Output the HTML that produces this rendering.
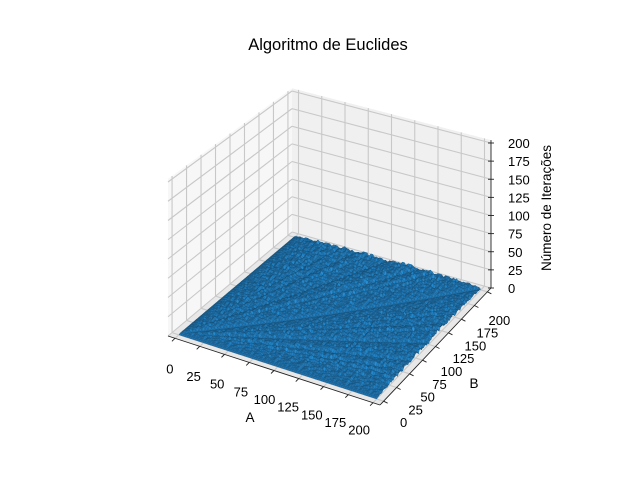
<!DOCTYPE html>
<html><head><meta charset="utf-8"><style>
body{margin:0;background:#fff}
svg{display:block}
text{font-family:"Liberation Sans","DejaVu Sans",sans-serif;fill:#000}
</style></head><body>
<svg id="chart" width="640" height="480" viewBox="0 0 640 480" xmlns="http://www.w3.org/2000/svg">
<rect width="640" height="480" fill="#fff"/>
<text x="328" y="50" font-size="16.5" text-anchor="middle">Algoritmo de Euclides</text>
<g id="panes"></g>
<g id="grid"></g>
<g id="surface"></g>
<g id="axes"></g>
<text x="250" y="422" font-size="13.5" text-anchor="middle">A</text>
<text x="474" y="388" font-size="13.5" text-anchor="middle">B</text>
<text transform="translate(551,208) rotate(-90)" font-size="13.5" text-anchor="middle">Número de Iterações</text>
</svg>
<script>
const aTicks=[0,25,50,75,100,125,150,175,200];
const bTicks=[0,25,50,75,100,125,150,175,200];
const zTicks=[0,25,50,75,100,125,150,175,200];
const gridStep=2;
const aValues=[];for(let a=0;a<=200;a+=gridStep)aValues.push(a);
const bValues=[];for(let b=0;b<=200;b+=gridStep)bValues.push(b);
// Z values: number of iterations of Euclid's algorithm for each (A,B)
function euclidSteps(a,b){let n=0;while(b!==0){const t=a%b;a=b;b=t;n++;}return n;}
const zValues=aValues.map(a=>bValues.map(b=>euclidSteps(a,b)));

const NS="http://www.w3.org/2000/svg";
const lo=-7,hi=207,zlo=0,zhi=204;
const C00=[168,336],C10=[380,405],C11=[491,288],C01=[292,232];
const K00=0.77,K10=0.78,K11=0.725,K01=0.705;
function P(a,b,z){
  const u=(a-lo)/(hi-lo),v=(b-lo)/(hi-lo);
  const w00=(1-u)*(1-v),w10=u*(1-v),w11=u*v,w01=(1-u)*v;
  const x=w00*C00[0]+w10*C10[0]+w11*C11[0]+w01*C01[0];
  const y=w00*C00[1]+w10*C10[1]+w11*C11[1]+w01*C01[1];
  const k=w00*K00+w10*K10+w11*K11+w01*K01;
  return [x,y-(z-zlo)*k];
}
function el(tag,attrs,parent){const e=document.createElementNS(NS,tag);for(const k in attrs)e.setAttribute(k,attrs[k]);parent.appendChild(e);return e;}
function pts(arr){return arr.map(p=>p[0].toFixed(1)+","+p[1].toFixed(1)).join(" ");}

const panes=document.getElementById('panes');
let e;
e=el('polygon',{points:pts([P(lo,lo,zlo),P(lo,hi,zlo),P(lo,hi,zhi),P(lo,lo,zhi)]),fill:'#f7f7f7'},panes);


e=el('polygon',{points:pts([P(lo,hi,zlo),P(hi,hi,zlo),P(hi,hi,zhi),P(lo,hi,zhi)]),fill:'#f0f0f0'},panes);


e=el('polygon',{points:pts([P(lo,lo,zlo),P(hi,lo,zlo),P(hi,hi,zlo),P(lo,hi,zlo)]),fill:'#e8e8e8'},panes);



const grid=document.getElementById('grid');
const gs={stroke:'#c8c8c8','stroke-width':1.1,fill:'none'};
function line(p,q,attrs,parent){return el('line',Object.assign({x1:p[0],y1:p[1],x2:q[0],y2:q[1]},attrs),parent);}
bTicks.forEach(b=>{
  e=line(P(lo,b,zlo),P(lo,b,zhi),gs,grid);
  
  
  e=line(P(lo,b,zlo),P(hi,b,zlo),gs,grid);
  
  
});
aTicks.forEach(a=>{
  e=line(P(a,hi,zlo),P(a,hi,zhi),gs,grid);
  
  
  e=line(P(a,lo,zlo),P(a,hi,zlo),gs,grid);
  
  
});
zTicks.forEach(z=>{
  e=line(P(lo,lo,z),P(lo,hi,z),gs,grid);
  
  
  e=line(P(lo,hi,z),P(hi,hi,z),gs,grid);
  
  
});

// surface
const surf=document.getElementById('surface');
const quads=[];
for(let i=0;i<aValues.length-1;i++)for(let j=0;j<bValues.length-1;j++)quads.push([i,j]);
quads.sort((q,r)=>(q[0]-q[1])-(r[0]-r[1]));
let html='';
quads.forEach(([i,j])=>{
  const a0=aValues[i],a1=aValues[i+1],b0=bValues[j],b1=bValues[j+1];
  const z00=zValues[i][j],z10=zValues[i+1][j],z11=zValues[i+1][j+1],z01=zValues[i][j+1];
  const da=(z10+z11-z00-z01)/2,db=(z01+z11-z00-z10)/2;
  let s=0.9+0.06*(db-da);s=Math.max(0.5,Math.min(1.3,s));
  const r=Math.min(255,Math.round(31*s)),g=Math.min(255,Math.round(119*s)),bl=Math.min(255,Math.round(180*s));
  const poly=[P(a0,b0,z00),P(a1,b0,z10),P(a1,b1,z11),P(a0,b1,z01)];
  html+='<polygon points="'+pts(poly)+'" fill="rgb('+r+','+g+','+bl+')" stroke="rgb('+Math.round(r*0.8)+','+Math.round(g*0.8)+','+Math.round(bl*0.8)+')" stroke-width="0.4"/>';
});
surf.innerHTML=html;

// axes
const axes=document.getElementById('axes');
const as={stroke:'#222','stroke-width':0.9};
e=line(P(lo,lo,zlo),P(hi,lo,zlo),as,axes);


e=line(P(hi,lo,zlo),P(hi,hi,zlo),as,axes);


e=line(P(hi,hi,zlo),P(hi,hi,zhi),as,axes);


aTicks.forEach(a=>{
  const u=a/200,p=P(a,lo,zlo);
  e=line(p,[p[0]-3,p[1]+3],as,axes);
  
  
  const t=el('text',{x:(p[0]-5-9*u).toFixed(1),y:(p[1]+30-3*u+5).toFixed(1),'font-size':13,'text-anchor':'middle'},axes);
  t.textContent=a;
  
  
});
bTicks.forEach(b=>{
  const u=b/200,p=P(hi,b,zlo);
  e=line(p,[p[0]+4,p[1]+2],as,axes);
  
  
  const t=el('text',{x:(p[0]+20-8*u).toFixed(1),y:(p[1]+21+7*u+5).toFixed(1),'font-size':13,'text-anchor':'middle'},axes);
  t.textContent=b;
  
  
});
zTicks.forEach(z=>{
  const p=P(hi,hi,z);
  e=line([p[0]-3,p[1]],[p[0]+3,p[1]],as,axes);
  
  
  const t=el('text',{x:(p[0]+17).toFixed(1),y:(p[1]+5).toFixed(1),'font-size':13,'text-anchor':'start'},axes);
  t.textContent=z;
  
  
});
</script>
</body></html>
